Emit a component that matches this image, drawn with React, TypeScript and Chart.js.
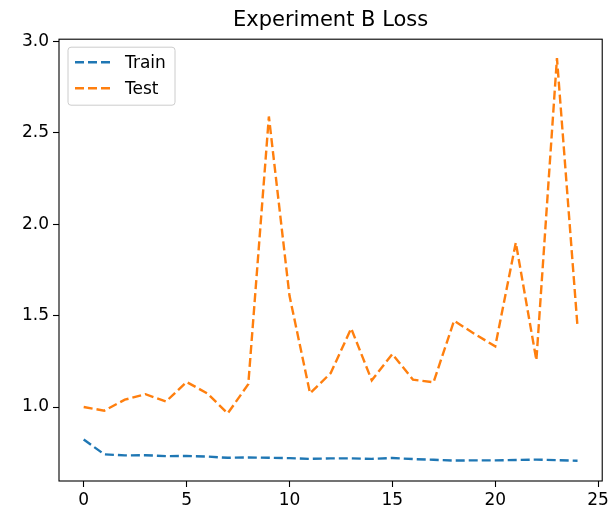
import React, { useEffect, useRef } from "react";
import { Chart, registerables } from "chart.js";

Chart.register(...registerables);

const titleText = "Experiment B Loss";
const epochs = [0, 1, 2, 3, 4, 5, 6, 7, 8, 9, 10, 11, 12, 13, 14, 15, 16, 17, 18, 19, 20, 21, 22, 23, 24];
const trainLoss = [0.822, 0.741, 0.735, 0.736, 0.731, 0.732, 0.729, 0.722, 0.724, 0.722, 0.72, 0.716, 0.719, 0.719, 0.716, 0.721, 0.715, 0.711, 0.707, 0.708, 0.708, 0.71, 0.712, 0.709, 0.706];
const testLoss = [1.0, 0.98, 1.04, 1.07, 1.03, 1.137, 1.075, 0.965, 1.125, 2.59, 1.61, 1.075, 1.185, 1.43, 1.146, 1.29, 1.15, 1.135, 1.472, 1.4, 1.332, 1.9, 1.256, 2.909, 1.438];
const seriesNames = ["Train", "Test"];
const seriesColors = ["#1f77b4", "#ff7f0e"];
const xTicks = [0, 5, 10, 15, 20, 25];
const yTicks = [1.0, 1.5, 2.0, 2.5, 3.0];

const FONT = "'DejaVu Sans', sans-serif";

export default function App() {
  const ref = useRef<HTMLCanvasElement>(null);

  useEffect(() => {
    document.body.style.margin = "0";
    const canvas = ref.current;
    if (!canvas) return;

    const framePlugin = {
      id: "frame",
      afterDraw(chart: any) {
        const { ctx, chartArea } = chart;
        const { left, top, right, bottom } = chartArea;
        ctx.save();
        ctx.strokeStyle = "#000";
        ctx.lineWidth = 1.1;
        ctx.strokeRect(left, top, right - left, bottom - top);
        ctx.restore();
      },
    };

    const legendPlugin = {
      id: "mplLegend",
      afterDraw(chart: any) {
        const { ctx, chartArea } = chart;
        const bx = chartArea.left + 9;
        const by = chartArea.top + 8;
        const bw = 107;
        const bh = 58;
        ctx.save();
        ctx.beginPath();
        (ctx as any).roundRect(bx, by, bw, bh, 3);
        ctx.fillStyle = "rgba(255,255,255,0.8)";
        ctx.fill();
        ctx.strokeStyle = "#cccccc";
        ctx.lineWidth = 1;
        ctx.stroke();
        chart.data.datasets.forEach((ds: any, i: number) => {
          const y = by + 15 + i * 26;
          ctx.beginPath();
          ctx.setLineDash([9, 4]);
          ctx.lineWidth = 2.4;
          ctx.strokeStyle = ds.borderColor;
          ctx.moveTo(bx + 7, y);
          ctx.lineTo(bx + 43, y);
          ctx.stroke();
          ctx.setLineDash([]);
          ctx.fillStyle = "#000";
          ctx.font = `17px ${FONT}`;
          ctx.textBaseline = "middle";
          ctx.textAlign = "left";
          ctx.fillText(ds.label, bx + 57, y + 1);
        });
        ctx.restore();
      },
    };

    const mk = (vals: number[]) => epochs.map((e, i) => ({ x: e, y: vals[i] }));

    const chart = new Chart(canvas, {
      type: "line",
      data: {
        datasets: [
          {
            label: seriesNames[0],
            data: mk(trainLoss),
            borderColor: seriesColors[0],
            backgroundColor: seriesColors[0],
            borderWidth: 2.4,
            borderDash: [9, 4],
            pointRadius: 0,
            tension: 0,
            fill: false,
          },
          {
            label: seriesNames[1],
            data: mk(testLoss),
            borderColor: seriesColors[1],
            backgroundColor: seriesColors[1],
            borderWidth: 2.4,
            borderDash: [9, 4],
            pointRadius: 0,
            tension: 0,
            fill: false,
          },
        ],
      },
      options: {
        animation: false,
        responsive: false,
        devicePixelRatio: 1,
        layout: { padding: { left: 0, right: 9, top: 0, bottom: 0 } },
        plugins: {
          legend: { display: false },
          tooltip: { enabled: false },
          title: {
            display: true,
            text: titleText,
            fullSize: false,
            color: "#000",
            font: { family: FONT, size: 21, weight: "normal", lineHeight: 1.2 },
            padding: { top: 8, bottom: 6 },
          },
        },
        scales: {
          x: {
            type: "linear",
            min: -1.2,
            max: 25.2,
            afterFit: (s: any) => {
              s.height = 31;
            },
            afterBuildTicks: (s: any) => {
              s.ticks = xTicks.map((v) => ({ value: v }));
            },
            ticks: {
              color: "#000",
              font: { family: FONT, size: 17 },
              padding: 3,
              maxRotation: 0,
              autoSkip: false,
              callback: (v: any) => String(v),
            },
            grid: {
              drawOnChartArea: false,
              drawTicks: true,
              tickLength: 6,
              tickColor: "#000",
              tickWidth: 1.1,
            },
            border: { display: false },
          },
          y: {
            type: "linear",
            min: 0.595,
            max: 3.013,
            afterFit: (s: any) => {
              s.width = 59;
            },
            afterBuildTicks: (s: any) => {
              s.ticks = yTicks.map((v) => ({ value: v }));
            },
            ticks: {
              color: "#000",
              font: { family: FONT, size: 17 },
              padding: 4,
              autoSkip: false,
              callback: (v: any) => Number(v).toFixed(1),
            },
            grid: {
              drawOnChartArea: false,
              drawTicks: true,
              tickLength: 6,
              tickColor: "#000",
              tickWidth: 1.1,
            },
            border: { display: false },
          },
        },
      },
      plugins: [framePlugin, legendPlugin],
    } as any);

    return () => chart.destroy();
  }, []);

  return (
    <div style={{ position: "absolute", left: 0, top: 0, width: 612, height: 512, background: "#fff" }}>
      <canvas ref={ref} width={612} height={512} style={{ width: 612, height: 512 }} />
    </div>
  );
}
